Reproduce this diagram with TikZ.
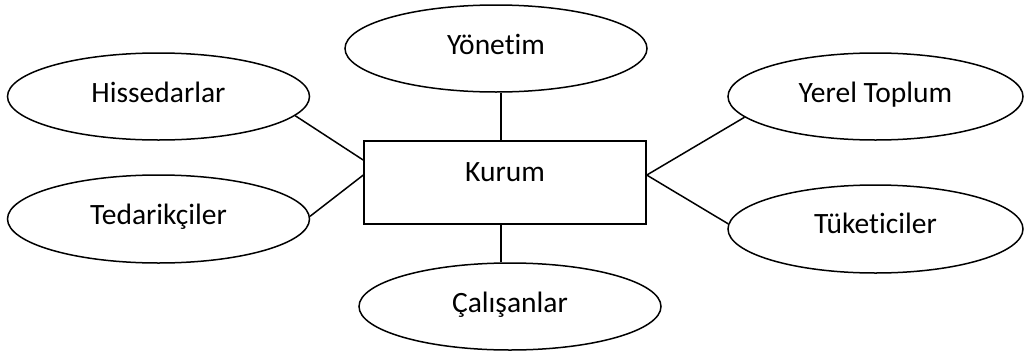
\documentclass[tikz,border=0pt]{standalone}
\usepackage{fontspec}
\setmainfont[Ligatures={NoCommon}]{Carlito}
\usetikzlibrary{shapes.geometric}
\begin{document}
\begin{tikzpicture}[x=1pt,y=-1pt,
  lbl/.style={font=\fontsize{29.5}{34}\selectfont,text height=19pt,text depth=0pt},
  oval/.style={ellipse,draw,line width=1.5pt,inner sep=0pt,minimum width=302pt,minimum height=87pt,lbl},
  box/.style={rectangle,draw,line width=1.5pt,inner sep=0pt,minimum width=282pt,minimum height=83pt,lbl},
  link/.style={line width=1.5pt}]
\useasboundingbox (0,0) rectangle (1025,351);
\node[box] (kurum) at (505,182.5) {\raisebox{11pt}{Kurum}};
\node[oval] (yon) at (496,48.5) {\raisebox{4pt}{Yönetim}};
\node[oval] (hiss) at (158.5,96.5) {\raisebox{4pt}{Hissedarlar}};
\node[oval,minimum height=88pt] (ted) at (158.5,219) {\raisebox{4pt}{Tedarikçiler}};
\node[oval,minimum width=295pt] (yerel) at (875.5,96.5) {\raisebox{4pt}{Yerel Toplum}};
\node[oval,minimum width=295pt,minimum height=88pt] (tuk) at (875.5,229) {\raisebox{5pt}{Tüketiciler}};
\node[oval] (cal) at (510,306.5) {\raisebox{4pt}{Çalışanlar}};
\draw[link] ([xshift=5pt]yon.south) -- ([xshift=-4pt]kurum.north);
\draw[link] ([xshift=-4pt]kurum.south) -- ([xshift=-9pt]cal.north);
\draw[link] (hiss.-8.2) -- (kurum.171);
\draw[link] (ted.1.5) -- (kurum.177.4);
\draw[link] (kurum.3) -- (yerel.-171.4);
\draw[link] (kurum.3) -- (tuk.178.4);
\end{tikzpicture}
\end{document}
